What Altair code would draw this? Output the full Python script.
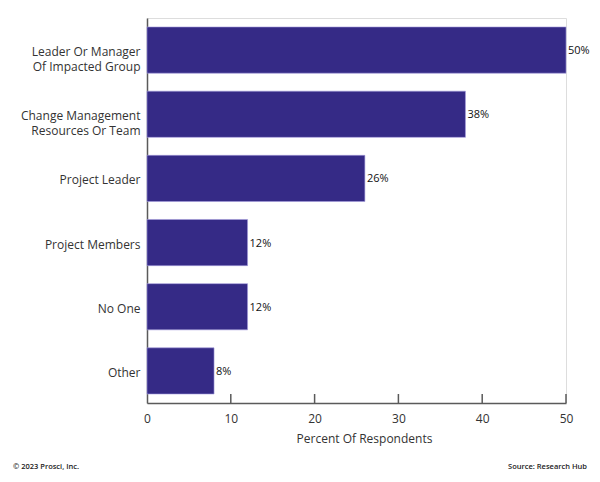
import altair as alt
import pandas as pd

categories = [
    ["Leader Or Manager", "Of Impacted Group"],
    ["Change Management", "Resources Or Team"],
    ["Project Leader"],
    ["Project Members"],
    ["No One"],
    ["Other"],
]
values = [50, 38, 26, 12, 12, 8]
x_ticks = [0, 10, 20, 30, 40, 50]
footer_left = "© 2023 Prosci, Inc."
footer_right = "Source: Research Hub"

keys = [" ".join(c) for c in categories]
df = pd.DataFrame({"cat": keys, "value": values, "label": [f"{v}%" for v in values]})
label_expr = "{" + ",".join(f"'{k}': {c!r}" for k, c in zip(keys, categories)) + "}[datum.value]"

W, H = 419, 385
FONT = "Open Sans"
BAR = "#352a86"
AXIS = "#5a5a5a"

y_enc = alt.Y(
    "cat:N",
    sort=keys,
    title=None,
    scale=alt.Scale(paddingInner=0.28, paddingOuter=0.14),
    axis=alt.Axis(
        ticks=False,
        domainColor=AXIS,
        domainWidth=1.5,
        labelFont=FONT,
        labelFontSize=12,
        labelColor="#333333",
        labelPadding=7,
        labelLineHeight=15,
        labelOffset=2,
        labelExpr=label_expr,
        labelLimit=200,
    ),
)
x_enc = alt.X(
    "value:Q",
    scale=alt.Scale(domain=[0, 50], nice=False),
    axis=alt.Axis(
        values=x_ticks,
        ticks=False,
        grid=False,
        labelFlush=False,
        domainColor=AXIS,
        domainWidth=1.5,
        labelFont=FONT,
        labelFontSize=12,
        labelColor="#333333",
        labelPadding=10,
        title="Percent Of Respondents",
        titleFont=FONT,
        titleFontSize=12,
        titleFontWeight="normal",
        titleColor="#333333",
        titlePadding=9,
        titleX=217,
    ),
)

base = alt.Chart(df)
bars = base.mark_bar(color=BAR, stroke="#a39bdc", strokeWidth=0.6).encode(x=x_enc, y=y_enc)
texts = base.mark_text(align="left", baseline="middle", dx=2, dy=1, font=FONT, fontSize=11, color="#111111").encode(
    x="value:Q", y=alt.Y("cat:N", sort=keys), text="label:N"
)

tick_df = pd.DataFrame({"t": x_ticks[1:]})
ticks = alt.Chart(tick_df).mark_rule(color=AXIS, strokeWidth=1.5).encode(
    x="t:Q", y=alt.value(H - 9), y2=alt.value(H)
)

foot_df = pd.DataFrame({"l": [footer_left], "r": [footer_right]})
foot_l = alt.Chart(foot_df).mark_text(align="left", baseline="middle", font=FONT, fontSize=7.5, fontWeight=600, color="#222222").encode(
    x=alt.value(-134), y=alt.value(449), text="l:N"
)
foot_r = alt.Chart(foot_df).mark_text(align="right", baseline="middle", font=FONT, fontSize=7.5, fontWeight=600, color="#222222").encode(
    x=alt.value(440), y=alt.value(449), text="r:N"
)

chart = (
    alt.layer(bars, texts, ticks, foot_l, foot_r)
    .properties(
        width=W,
        height=H,
        autosize=alt.AutoSizeParams(type="none"),
        padding={"left": 139, "top": 10, "right": 26, "bottom": 70},
    )
    .configure_view(stroke=None)
    .configure(background="white")
)

chart.save("out.html", embed_options={"renderer": "svg", "actions": False})
